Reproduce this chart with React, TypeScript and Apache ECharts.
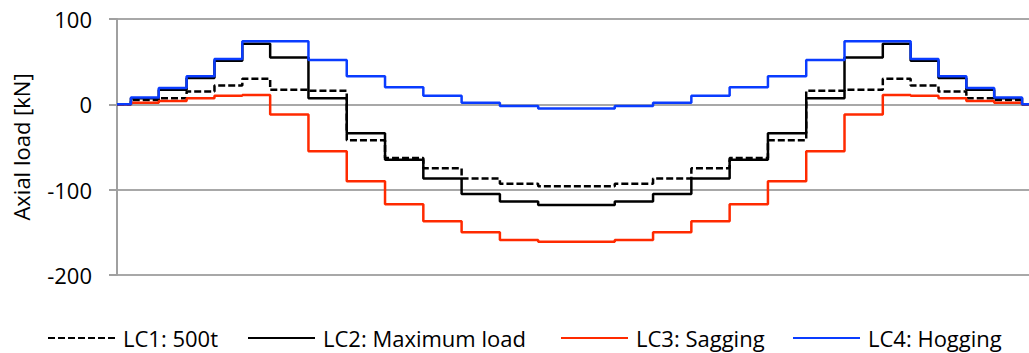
import React, { useEffect, useRef } from "react";
import * as echarts from "echarts";

// Segment boundaries along the member (station positions)
const stations = [
  0, 0.5, 1.5, 2.5, 3.5, 4.5, 5.5, 6.875, 8.25, 9.625, 11, 12.375, 13.75, 15.125,
  16.5, 17.875, 19.25, 20.625, 22, 23.375, 24.75, 26.125, 27.5, 28.5, 29.5, 30.5,
  31.5, 32.5, 33,
];

// Axial load per segment [kN]
const lc1 = [0, 5, 7, 15, 22, 30, 17, 16, -42, -63, -75, -87, -93, -96, -96, -93, -87, -75, -63, -42, 16, 17, 30, 22, 15, 7, 5, 0];
const lc2 = [0, 7, 17, 31, 51, 71, 55, 7, -34, -65, -87, -105, -114, -118, -118, -114, -105, -87, -65, -34, 7, 55, 71, 51, 31, 17, 7, 0];
const lc3 = [0, 2, 4, 7, 10, 11, -12, -55, -90, -117, -137, -150, -159, -161, -161, -159, -150, -137, -117, -90, -55, -12, 11, 10, 7, 4, 2, 0];
const lc4 = [0, 8, 19, 33, 53, 74, 74, 52, 33, 20, 10, 2, -2, -5, -5, -2, 2, 10, 20, 33, 52, 74, 74, 53, 33, 19, 8, 0];

const seriesNames = ["LC1: 500t", "LC2: Maximum load", "LC3: Sagging", "LC4: Hogging"];
const yTicks = [-200, -100, 0, 100];

const FONT = "'Open Sans', sans-serif";

function toSteps(values: number[]) {
  return stations.map((s, i) => [s, values[Math.min(i, values.length - 1)]]);
}

export default function App() {
  const ref = useRef<HTMLDivElement>(null);
  useEffect(() => {
    if (!ref.current) return;
    const chart = echarts.init(ref.current, undefined, { renderer: "svg" });
    const styles = [
      { color: "#000000", type: [7, 3] as any },
      { color: "#000000", type: "solid" },
      { color: "#FF2A00", type: "solid" },
      { color: "#0A3CFF", type: "solid" },
    ];
    const datasets = [lc1, lc2, lc3, lc4];
    const legendLefts = [42, 242, 555, 787];
    chart.setOption({
      animation: false,
      backgroundColor: "#ffffff",
      grid: { left: 117, right: 0, top: 19, bottom: 78, containLabel: false },
      legend: seriesNames.map((n, i) => ({
        data: [n],
        left: legendLefts[i],
        top: 322,
        itemWidth: 67,
        itemHeight: 14,
        itemGap: 0,
        itemStyle: { opacity: 0 },
        textStyle: { fontFamily: FONT, fontSize: 22, color: "#000", padding: [0, 0, 0, 3] },
      })),
      xAxis: {
        type: "value",
        min: 0,
        max: 32.75,
        show: false,
        splitLine: { show: false },
      },
      yAxis: {
        type: "value",
        min: yTicks[0],
        max: yTicks[yTicks.length - 1],
        interval: 100,
        name: "Axial load [kN]",
        nameLocation: "middle",
        nameRotate: 90,
        nameGap: 85,
        nameTextStyle: { fontFamily: FONT, fontSize: 22, color: "#000" },
        axisLine: { show: true, lineStyle: { color: "#a0a0a0", width: 2 } },
        axisTick: { show: true, length: 8, lineStyle: { color: "#a0a0a0", width: 2 } },
        axisLabel: { margin: 25, fontFamily: FONT, fontSize: 22, color: "#000" },
        splitLine: { show: true, lineStyle: { color: "#a8a8a8", width: 2 } },
      },
      series: datasets.map((d, i) => ({
        name: seriesNames[i],
        type: "line",
        step: "end",
        symbol: "none",
        data: toSteps(d),
        lineStyle: { color: styles[i].color, width: 2.5, type: styles[i].type },
        itemStyle: { color: styles[i].color },
        z: 2 + i,
      })),
    });
    return () => chart.dispose();
  }, []);
  return (
    <div
      ref={ref}
      style={{ position: "fixed", left: 0, top: 0, width: 1029, height: 353, background: "#fff" }}
    />
  );
}
